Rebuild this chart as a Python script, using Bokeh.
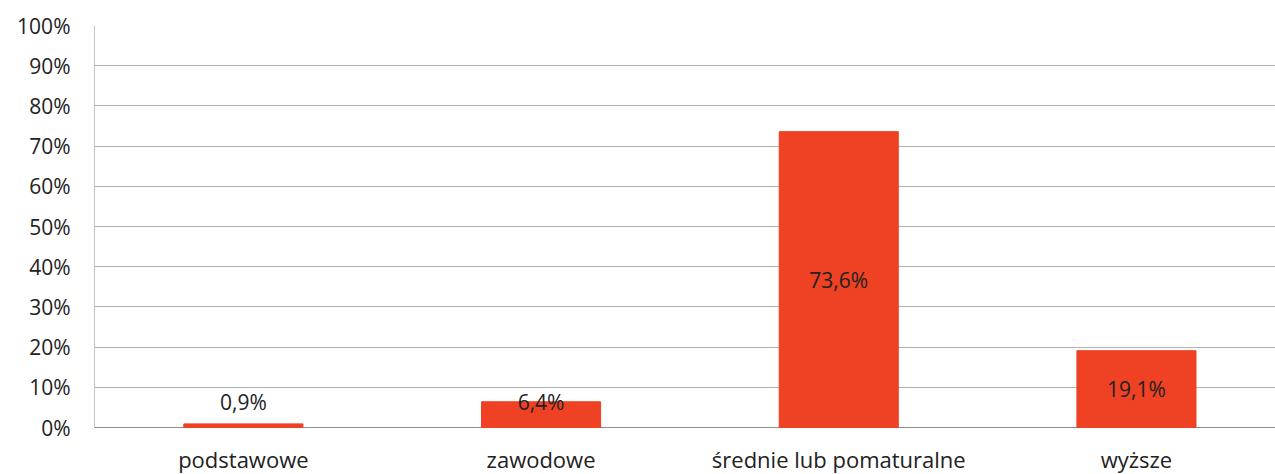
from bokeh.plotting import figure
from bokeh.models import Range1d, FixedTicker, ColumnDataSource
from bokeh.embed import file_html
from bokeh.resources import INLINE
from bokeh.core.properties import value

categories = ["podstawowe", "zawodowe", "średnie lub pomaturalne", "wyższe"]
shares = [0.9, 6.4, 73.6, 19.1]
share_labels = ["0,9%", "6,4%", "73,6%", "19,1%"]
y_ticks = [0, 10, 20, 30, 40, 50, 60, 70, 80, 90, 100]
y_tick_labels = ["0%", "10%", "20%", "30%", "40%", "50%", "60%", "70%", "80%", "90%", "100%"]

FONT = "Open Sans"
BAR = "#EF4123"
TXT = "#222222"
AXIS = "#8c8c8c"

PX_PER_UNIT = 402 / 100.0
X_END = 1181 / 297.7
Y_START = -47 / PX_PER_UNIT

xs = [i + 0.5 for i in range(len(categories))]
label_y = [max(v / 2.0, 6.3) for v in shares]

src = ColumnDataSource(dict(x=xs, top=shares, lab=share_labels, ly=label_y))
cat_src = ColumnDataSource(dict(x=xs, name=categories, y=[-4.0] * len(xs)))

p = figure(width=1275, height=474, output_backend="svg", toolbar_location=None,
           x_range=Range1d(0, X_END), y_range=Range1d(Y_START, 100),
           min_border_left=94, min_border_top=25, min_border_right=0,
           min_border_bottom=0)
p.outline_line_color = None
p.background_fill_color = "white"
p.border_fill_color = "white"

# gridlines only over the value range
p.xgrid.grid_line_color = None
p.ygrid.ticker = FixedTicker(ticks=y_ticks[1:])
p.ygrid.grid_line_color = "#b0b0b0"
p.ygrid.grid_line_width = 1

# axis lines (category axis at 0, value axis from 0 to 100)
p.segment(x0=[0, 0], y0=[0, 0], x1=[X_END, 0], y1=[0, 100],
          line_color=AXIS, line_width=1)

p.vbar(x="x", top="top", bottom=0, width=0.4, source=src,
       fill_color=BAR, line_color=BAR)
p.text(x="x", y="ly", text="lab", source=src, text_align="center",
       text_baseline="middle", text_font=value(FONT), text_font_size="21px",
       text_color=TXT)

# category labels under the category axis
p.text(x="x", y="y", text="name", source=cat_src, text_align="center",
       text_baseline="top", text_font=value(FONT),
       text_font_size="22px", text_color=TXT)

# y axis: labels only
p.yaxis.ticker = FixedTicker(ticks=y_ticks)
p.yaxis.major_label_overrides = {t: l for t, l in zip(y_ticks, y_tick_labels)}
p.yaxis.major_tick_out = 0
p.yaxis.major_tick_in = 0
p.yaxis.minor_tick_out = 0
p.yaxis.minor_tick_in = 0
p.yaxis.major_label_standoff = 24
p.yaxis.major_label_text_font = FONT
p.yaxis.major_label_text_font_size = "21px"
p.yaxis.major_label_text_color = TXT
p.yaxis.axis_line_color = None

p.xaxis.visible = False

open("out.html", "w").write(file_html(p, INLINE))
